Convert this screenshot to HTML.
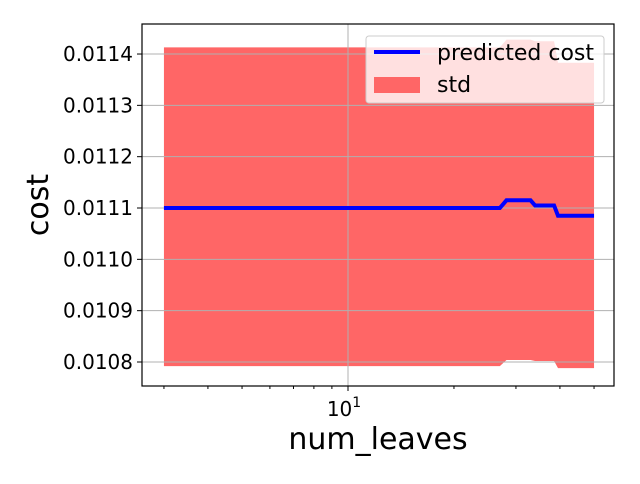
<!DOCTYPE html>
<html><head><meta charset="utf-8"><style>
body{margin:0;background:#fff;font-family:"DejaVu Sans","Liberation Sans",sans-serif}
</style></head><body>
<svg id="c" width="640" height="480" xmlns="http://www.w3.org/2000/svg"></svg>
<script>
const xs = [3, 27, 28.2, 33, 34, 38.5, 39.5, 50];
const predicted = [0.01110, 0.01110, 0.011115, 0.011115, 0.011105, 0.011105, 0.011085, 0.011085];
const stdTop = [0.011413, 0.011413, 0.011428, 0.011428, 0.011425, 0.011425, 0.011383, 0.011383];
const stdBot = [0.010792, 0.010792, 0.010804, 0.010804, 0.010802, 0.010802, 0.010788, 0.010788];
const yTicks = [0.0108, 0.0109, 0.0110, 0.0111, 0.0112, 0.0113, 0.0114];
const xMinor = [3,4,5,6,7,8,9,20,30,40,50];

const NS="http://www.w3.org/2000/svg";
const svg=document.getElementById('c');
const L=142,R=614,T=24,B=386;
const X=v=>348+Math.log10(v/10)*352;
const Y=v=>362-(v-0.0108)/0.0001*51.33;
function el(t,a,p){const e=document.createElementNS(NS,t);for(const k in a)e.setAttribute(k,a[k]);(p||svg).appendChild(e);return e;}

let d='M'+xs.map((x,i)=>X(x)+','+Y(stdTop[i])).join('L');
for(let i=xs.length-1;i>=0;i--)d+='L'+X(xs[i])+','+Y(stdBot[i]);
const band=el('path',{d:d+'Z',fill:'#ff6666'});



yTicks.forEach(v=>{
  const y=Y(v);
  const g=el('line',{x1:L,x2:R,y1:y,y2:y,stroke:'#b0b0b0','stroke-width':1});
  
  
  el('line',{x1:L-5,x2:L,y1:y,y2:y,stroke:'#000'});
  const t=el('text',{x:L-9,y:y+7,'text-anchor':'end','font-size':'20px'});
  t.textContent=v.toFixed(4);
  
  
});
const gx=el('line',{x1:348,x2:348,y1:T,y2:B,stroke:'#b0b0b0'});


el('line',{x1:348,x2:348,y1:B,y2:B+5,stroke:'#000'});
xMinor.forEach(v=>{el('line',{x1:X(v),x2:X(v),y1:B,y2:B+3,stroke:'#000'});});

const line=el('polyline',{points:xs.map((x,i)=>X(x)+','+Y(predicted[i])).join(' '),fill:'none',stroke:'#0000ff','stroke-width':4});



el('rect',{x:L,y:T,width:R-L,height:B-T,fill:'none',stroke:'#000','stroke-width':1.2});

const xl=el('text',{x:344,y:416,'text-anchor':'middle','font-size':'20px'});
xl.innerHTML='10<tspan dy="-9" font-size="14px">1</tspan>';



const xt=el('text',{x:378,y:449,'text-anchor':'middle','font-size':'30px'});
xt.textContent='num_leaves';


const yt=el('text',{x:0,y:0,'text-anchor':'middle','font-size':'30px',transform:'translate(48,205) rotate(-90)'});
yt.textContent='cost';



const lg=el('g',{});


el('rect',{x:366,y:36,width:238,height:67,rx:3,fill:'#fff','fill-opacity':0.8,stroke:'#ccc'},lg);
el('line',{x1:374,x2:420,y1:52,y2:52,stroke:'#0000ff','stroke-width':4},lg);
el('rect',{x:374,y:77,width:46,height:16,fill:'#ff6666'},lg);
const t1=el('text',{x:437,y:60,'font-size':'22px'},lg);t1.textContent='predicted cost';


const t2=el('text',{x:437,y:92,'font-size':'22px'},lg);t2.textContent='std';


</script>
</body></html>
